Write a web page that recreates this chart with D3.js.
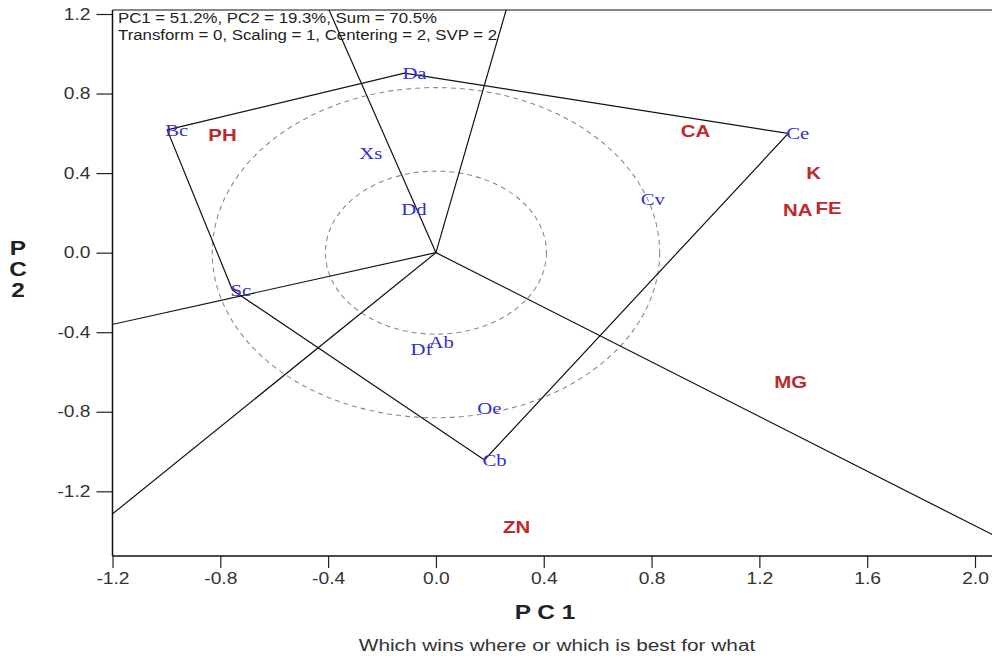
<!DOCTYPE html>
<html><head><meta charset="utf-8">
<script src="https://cdn.jsdelivr.net/npm/d3@7"></script>
<style>html,body{margin:0;padding:0;background:#fff;}svg{display:block;}</style>
</head><body>
<svg id="c" width="992" height="659"></svg>
<script>
// ---- data ----
const genotypes = ["Bc","Da","Ce","Cb","Sc","Xs","Dd","Cv","Df","Ab","Oe"];
const genoPC1 = [-0.997,-0.117,1.307,0.180,-0.755,-0.277,-0.121,0.767,-0.087,-0.020,0.161];
const genoPC2 = [0.617,0.903,0.599,-1.042,-0.188,0.501,0.220,0.270,-0.484,-0.449,-0.781];
const hullOrder = ["Bc","Da","Ce","Cb","Sc"];
const environments = ["PH","CA","K","NA","FE","MG","ZN"];
const envPC1 = [-0.792,0.963,1.401,1.342,1.457,1.316,0.299];
const envPC2 = [0.591,0.612,0.401,0.215,0.225,-0.650,-1.379];
const circleRadii = [0.41,0.83];
const xTicks = [-1.2,-0.8,-0.4,0.0,0.4,0.8,1.2,1.6,2.0];
const yTicks = [-1.2,-0.8,-0.4,0.0,0.4,0.8,1.2];
const infoLines = ["PC1 = 51.2%, PC2 = 19.3%, Sum = 70.5%","Transform = 0, Scaling = 1, Centering = 2, SVP = 2"];
const xTitle = "P C 1";
const yTitle = ["P","C","2"];
const subtitle = "Which wins where or which is best for what";

// ---- layout ----
const L = 112.5, R = 994, T = 10, B = 556;
const x = d3.scaleLinear().domain([-1.2, 2.0]).range([L, 975]);
const y = d3.scaleLinear().domain([-1.2, 1.2]).range([491.3, 14]);
const svg = d3.select("#c");
const font = "'Liberation Sans', Arial, sans-serif";
function stretch(sel, s){ sel.each(function(){ const l=this.getComputedTextLength(); d3.select(this).attr("textLength", l*s).attr("lengthAdjust","spacingAndGlyphs"); }); }

svg.append("defs").append("clipPath").attr("id","clip").append("rect")
  .attr("x",L).attr("y",T).attr("width",R-L).attr("height",B-T);

const plot = svg.append("g").attr("clip-path","url(#clip)");

// circles (circles in data units)
circleRadii.forEach(r=>{
  plot.append("ellipse").attr("cx",x(0)).attr("cy",y(0))
    .attr("rx",x(r)-x(0)).attr("ry",y(0)-y(r))
    .attr("fill","none").attr("stroke","#8a8a8a").attr("stroke-width",1.1).attr("stroke-dasharray","5,4");
});

// polygon
const gmap = {}; genotypes.forEach((g,i)=>gmap[g]=[genoPC1[i],genoPC2[i]]);
const hull = hullOrder.map(g=>gmap[g]);
plot.append("path").attr("d", d3.line().x(d=>x(d[0])).y(d=>y(d[1]))(hull)+"Z")
  .attr("fill","none").attr("stroke","#111").attr("stroke-width",1.2);

// rays perpendicular to hull edges
for(let i=0;i<hull.length;i++){
  const a=hull[i], b=hull[(i+1)%hull.length];
  const dx=b[0]-a[0], dy=b[1]-a[1];
  const t=-(a[0]*dx+a[1]*dy)/(dx*dx+dy*dy);
  const fx=a[0]+t*dx, fy=a[1]+t*dy;
  const n=Math.hypot(fx,fy);
  plot.append("line").attr("x1",x(0)).attr("y1",y(0))
    .attr("x2",x(fx/n*6)).attr("y2",y(fy/n*6))
    .attr("stroke","#111").attr("stroke-width",1.2);
}

// environment labels
const eg = svg.append("g");
environments.forEach((e,i)=>{
  eg.append("text").attr("x",x(envPC1[i])).attr("y",y(envPC2[i])).attr("dy","0.36em")
    .attr("text-anchor","middle").attr("font-family",font).attr("font-weight","bold")
    .attr("font-size",17).attr("fill","#c0282d").text(e);
});
stretch(eg.selectAll("text"),1.2);

// genotype labels
const gg = svg.append("g");
genotypes.forEach((g,i)=>{
  gg.append("text").attr("x",x(genoPC1[i])-2).attr("y",y(genoPC2[i])).attr("dy","0.35em")
    .attr("font-family","'Liberation Serif', 'Times New Roman', serif")
    .attr("font-size",17).attr("fill","#2f2fd0").text(g);
});
stretch(gg.selectAll("text"),1.22);

// axes
const yAxis = svg.append("g").attr("transform",`translate(${L},0)`)
  .call(d3.axisLeft(y).tickValues(yTicks).tickFormat(d3.format(".1f")).tickSize(16).tickPadding(6));
const xAxis = svg.append("g").attr("transform",`translate(0,${B})`)
  .call(d3.axisBottom(x).tickValues(xTicks).tickFormat(d3.format(".1f")).tickSize(12).tickPadding(5));
[yAxis,xAxis].forEach(a=>{
  a.select(".domain").remove();
  a.selectAll(".tick line").attr("stroke","#222").attr("stroke-width",1.2);
  a.selectAll(".tick text").attr("font-family",font).attr("font-size",16).attr("fill","#333")
    .text(d=>d3.format(".1f")(d).replace("−","-"));
  stretch(a.selectAll(".tick text"),1.2);
});

// frame lines: left, bottom, top
svg.append("line").attr("x1",L).attr("x2",L).attr("y1",T).attr("y2",B).attr("stroke","#111").attr("stroke-width",1.5);
svg.append("line").attr("x1",L).attr("x2",R).attr("y1",B).attr("y2",B).attr("stroke","#111").attr("stroke-width",1.5);
svg.append("line").attr("x1",L).attr("x2",R).attr("y1",T).attr("y2",T).attr("stroke","#111").attr("stroke-width",1.2);

// info text
const it = svg.append("g");
infoLines.forEach((s,i)=>{
  it.append("text").attr("x",118).attr("y",23+i*17).attr("font-family",font).attr("font-size",14)
    .attr("fill","#222").text(s);
});
stretch(it.selectAll("text"),1.2);

// axis titles
const xt = svg.append("text").attr("x",545).attr("y",619).attr("text-anchor","middle")
  .attr("font-family",font).attr("font-weight","bold").attr("font-size",20).attr("fill","#222").text(xTitle);
stretch(xt,1.22);
yTitle.forEach((c,i)=>{
  const t = svg.append("text").attr("x",18).attr("y",255+i*21).attr("text-anchor","middle")
    .attr("font-family",font).attr("font-weight","bold").attr("font-size",20).attr("fill","#222").text(c);
  stretch(t,1.22);
});
const st = svg.append("text").attr("x",557).attr("y",651).attr("text-anchor","middle")
  .attr("font-family",font).attr("font-size",16).attr("fill","#333").text(subtitle);
stretch(st,1.3);
</script>
</body></html>
